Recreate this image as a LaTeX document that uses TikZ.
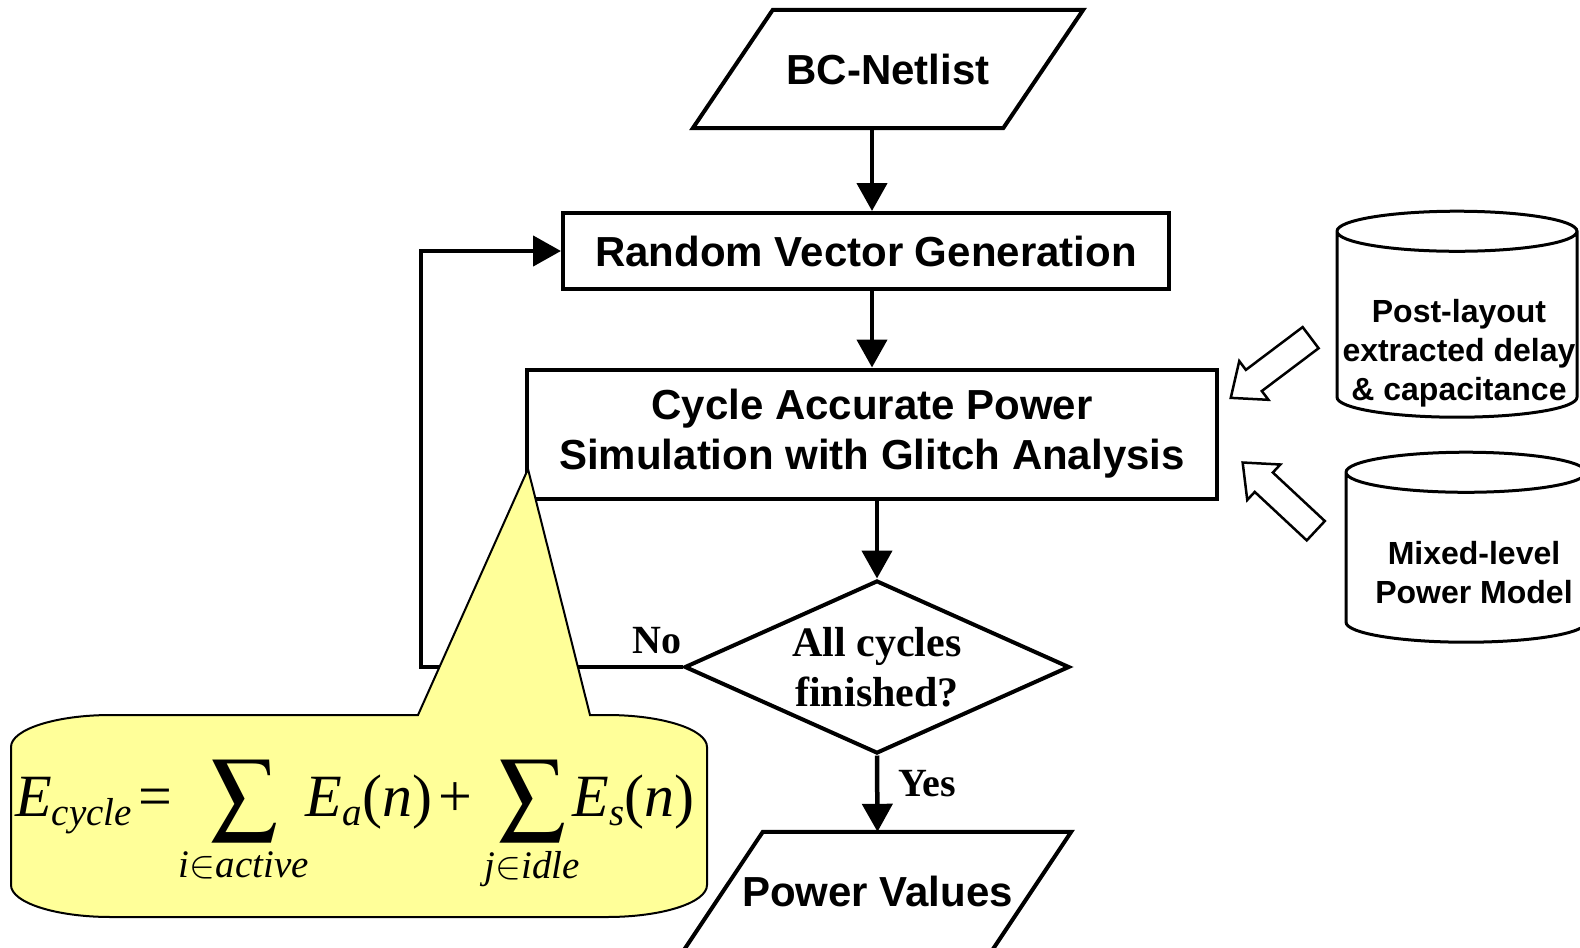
\documentclass[tikz,border=0pt]{standalone}
\usepackage{amsmath}
\usepackage{mathptmx}
\usepackage[no-math]{fontspec}
\newfontfamily\arialfont{Liberation Sans}
\newfontfamily\timesfont{Liberation Serif}
\newcommand{\mi}[1]{\text{\timesfont\itshape #1}}
\newcommand{\mr}[1]{\text{\timesfont #1}}
\newcommand{\bigsum}{\mathop{\vcenter{\hbox{\scalebox{1.1}{$\displaystyle\sum$}}}}\limits}
\DeclareMathSizes{60}{60}{39}{30}
\usetikzlibrary{arrows.meta, positioning, shapes.geometric, shapes.arrows}
\definecolor{noteyellow}{HTML}{FFFF99}

\begin{document}
\begin{tikzpicture}[x=1pt, y=-1pt,
  every node/.style = {font=\arialfont\bfseries\fontsize{42}{50}\selectfont},
  procbox/.style = {draw=black, line width=4pt, align=center, inner sep=0pt},
  iobox/.style   = {minimum height=118pt, inner sep=0pt},
  ioline/.style  = {draw=black, line width=4pt, line join=miter},
  decbox/.style  = {diamond, draw=black, line width=4pt, aspect=2.2,
                    minimum width=385pt, minimum height=173pt, inner sep=0pt,
                    align=center, font=\timesfont\bfseries\fontsize{42}{50}\selectfont},
  dbase/.style   = {cylinder, shape border rotate=90, aspect=0.167, draw=black,
                    line width=3pt, inner xsep=120pt, inner ysep=0pt,
                    minimum width=240pt, minimum height=206pt},
  dbtext/.style  = {align=center, font=\arialfont\bfseries\fontsize{32}{39}\selectfont},
  feed/.style    = {single arrow, draw=black, line width=2.5pt, fill=white,
                    inner sep=12pt, minimum height=100pt, single arrow head extend=11pt,
                    single arrow head indent=0pt, single arrow tip angle=80},
  flow/.style    = {-{Triangle[length=28pt, width=30pt]}, line width=4.5pt},
  edgelbl/.style = {font=\timesfont\bfseries\fontsize{40}{48}\selectfont},
]
  \useasboundingbox (0,0) rectangle (1580,948);

  % ------------------------------------------------------------ main flow
  \node[iobox, minimum width=310pt] (net) at (888,69) {BC-Netlist};
  \draw[ioline] ([xshift=-40pt]net.south west) -- ([xshift=40pt]net.north west)
        -- ([xshift=40pt]net.north east) -- ([xshift=-40pt]net.south east) -- cycle;
  \node[procbox, minimum width=606pt, minimum height=76pt] (rvg) at (866,251)
        {Random Vector Generation};
  \node[procbox, minimum width=690pt, minimum height=129pt] (cas) at (872,434)
        {Cycle Accurate Power\\Simulation with Glitch Analysis};
  \node[decbox] (dec) at (877,667) {All cycles\\finished?};
  \node[iobox, minimum width=308pt] (pv) at (877.5,891) {Power Values};
  \draw[ioline] ([xshift=-39.5pt]pv.south west) -- ([xshift=39.5pt]pv.north west)
        -- ([xshift=39.5pt]pv.north east) -- ([xshift=-39.5pt]pv.south east) -- cycle;

  \draw[flow] (net.south -| cas) -- (rvg.north -| cas);
  \draw[flow] (rvg.south -| cas) -- (cas.north);
  \draw[flow] (cas.south -| dec) -- (dec.north);
  \draw[flow] (dec.south) -- (pv.north);

  % ------------------------------------------------------------ loop back
  \coordinate (back) at (421,450);
  \draw[flow] (dec.west) -| (back) |- (rvg.west);
  \node[edgelbl] (no)  at (657,641) {No};
  \node[edgelbl] (yes) at (927,784) {Yes};

  % ------------------------------------------------------------ libraries
  \node[dbase] (pld) at (1457,335) {};
  \node[dbtext] (pldtxt) at (1459,353) {Post-layout\\extracted delay\\\& capacitance};
  \node[dbase, minimum height=190pt] (mlp) at (1466,568) {};
  \node[dbtext] (mlptxt) at (1474,573) {Mixed-level\\Power Model};
  \node[feed, rotate=217] (f1) at (1277,363) {};
  \node[feed, rotate=137] (f2) at (1285,502) {};

  % ------------------------------------------------------------ energy note
  \draw[fill=noteyellow, line width=2pt]
        (418,715) -- (528,469) -- (590,715) -- (607,715)
        arc[start angle=-90, end angle=0, x radius=100, y radius=32] -- (707,885)
        arc[start angle=0, end angle=90, x radius=100, y radius=32] -- (111,917)
        arc[start angle=90, end angle=180, x radius=100, y radius=32] -- (11,747)
        arc[start angle=180, end angle=270, x radius=100, y radius=32] -- cycle;
  \node[font=\fontsize{60}{64}\selectfont, inner sep=0pt, anchor=base west] (ecyc)
        at (15,816)
        {$\mi{E}_{\mi{cycle}}\kern6pt\mathord{\mr{=}}\kern0pt
         \bigsum_{\mi{i}\mathord{\in}\mi{active}}\kern-10pt\mi{E}_{\mi{a}}\mr{(}\mi{n}\mr{)}
         \kern6pt\mathord{\mr{+}}\kern6pt
         \bigsum_{\mi{j}\mathord{\in}\mi{idle}}\kern-14pt\mi{E}_{\mi{s}}\mr{(}\mi{n}\mr{)}$};

\end{tikzpicture}
\end{document}
